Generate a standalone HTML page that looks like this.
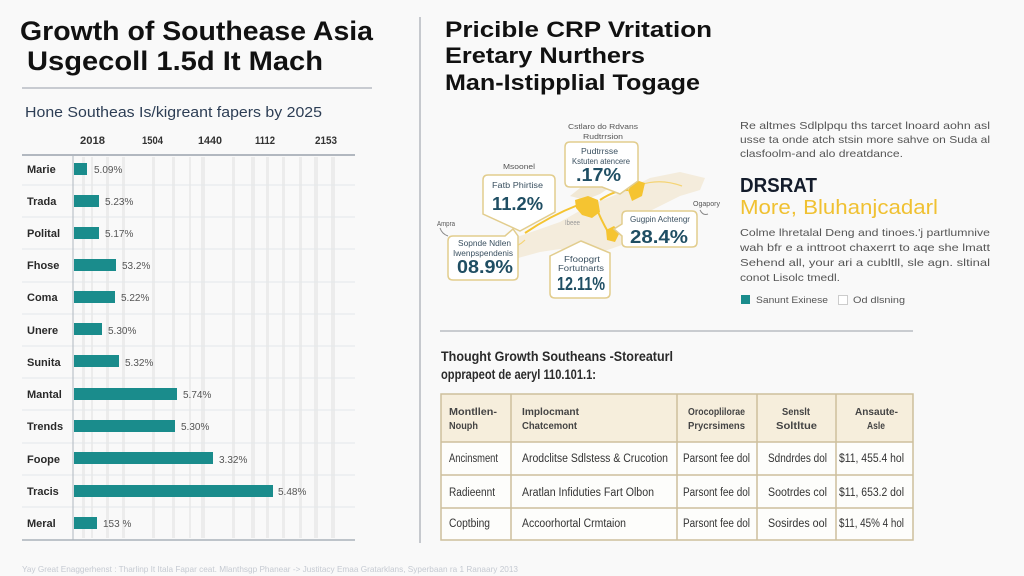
<!DOCTYPE html>
<html>
<head>
<meta charset="utf-8">
<style>
  html,body{margin:0;padding:0;background:#f9f9f9;}
  svg{display:block;}
  text{font-family:"Liberation Sans",Arial,sans-serif;}
</style>
</head>
<body>
<svg width="1024" height="576" viewBox="0 0 1024 576" xmlns="http://www.w3.org/2000/svg">
  <rect x="0" y="0" width="1024" height="576" fill="#f9f9f9"/>

  <!-- LEFT PANEL -->
  <text x="20" y="40" font-size="27" font-weight="bold" fill="#111" textLength="353" lengthAdjust="spacingAndGlyphs">Growth of Southease Asia</text>
  <text x="27" y="70" font-size="27" font-weight="bold" fill="#111" textLength="296" lengthAdjust="spacingAndGlyphs">Usgecoll 1.5d It Mach</text>
  <line x1="22" y1="88" x2="372" y2="88" stroke="#b8bcc4" stroke-width="1.5"/>
  <text x="25" y="117" font-size="15" fill="#2d3e55" textLength="297" lengthAdjust="spacingAndGlyphs">Hone Southeas Is/kigreant fapers by 2025</text>

  <g font-size="11" font-weight="bold" fill="#333">
    <text x="80" y="144" textLength="25" lengthAdjust="spacingAndGlyphs">2018</text>
    <text x="142" y="144" textLength="21" lengthAdjust="spacingAndGlyphs">1504</text>
    <text x="198" y="144" textLength="24" lengthAdjust="spacingAndGlyphs">1440</text>
    <text x="255" y="144" textLength="20" lengthAdjust="spacingAndGlyphs">1112</text>
    <text x="315" y="144" textLength="22" lengthAdjust="spacingAndGlyphs">2153</text>
  </g>

  <!-- faint vertical stripes -->
  <g fill="#e2e2e2" opacity="0.55">
    <rect x="82" y="157" width="3" height="381"/>
    <rect x="91" y="157" width="2" height="381"/>
    <rect x="106" y="157" width="3" height="381"/>
    <rect x="122" y="157" width="3" height="381"/>
    <rect x="152" y="157" width="3" height="381"/>
    <rect x="172" y="157" width="3" height="381"/>
    <rect x="189" y="157" width="2" height="381"/>
    <rect x="201" y="157" width="4" height="381"/>
    <rect x="232" y="157" width="3" height="381"/>
    <rect x="251" y="157" width="4" height="381"/>
    <rect x="266" y="157" width="3" height="381"/>
    <rect x="282" y="157" width="3" height="381"/>
    <rect x="299" y="157" width="3" height="381"/>
    <rect x="314" y="157" width="4" height="381"/>
    <rect x="331" y="157" width="4" height="381"/>
  </g>

  <!-- row separators -->
  <g stroke="#e4e7ea" stroke-width="1">
    <line x1="22" y1="185" x2="355" y2="185"/>
    <line x1="22" y1="217" x2="355" y2="217"/>
    <line x1="22" y1="249" x2="355" y2="249"/>
    <line x1="22" y1="282" x2="355" y2="282"/>
    <line x1="22" y1="314" x2="355" y2="314"/>
    <line x1="22" y1="346" x2="355" y2="346"/>
    <line x1="22" y1="378" x2="355" y2="378"/>
    <line x1="22" y1="410" x2="355" y2="410"/>
    <line x1="22" y1="443" x2="355" y2="443"/>
    <line x1="22" y1="475" x2="355" y2="475"/>
    <line x1="22" y1="507" x2="355" y2="507"/>
  </g>
  <line x1="22" y1="155" x2="355" y2="155" stroke="#9aa3ad" stroke-width="1.5"/>
  <line x1="73" y1="155" x2="73" y2="540" stroke="#b0b8c0" stroke-width="1"/>
  <line x1="22" y1="540" x2="355" y2="540" stroke="#aab2ba" stroke-width="1.5"/>

  <!-- bars -->
  <g fill="#1a8c8c">
    <rect x="74" y="163" width="13" height="12"/>
    <rect x="74" y="195" width="25" height="12"/>
    <rect x="74" y="227" width="25" height="12"/>
    <rect x="74" y="259" width="42" height="12"/>
    <rect x="74" y="291" width="41" height="12"/>
    <rect x="74" y="323" width="28" height="12"/>
    <rect x="74" y="355" width="45" height="12"/>
    <rect x="74" y="388" width="103" height="12"/>
    <rect x="74" y="420" width="101" height="12"/>
    <rect x="74" y="452" width="139" height="12"/>
    <rect x="74" y="485" width="199" height="12"/>
    <rect x="74" y="517" width="23" height="12"/>
  </g>

  <!-- row labels -->
  <g font-size="11" font-weight="bold" fill="#2a2a2a">
    <text x="27" y="173">Marie</text>
    <text x="27" y="205">Trada</text>
    <text x="27" y="237">Polital</text>
    <text x="27" y="269">Fhose</text>
    <text x="27" y="301">Coma</text>
    <text x="27" y="334">Unere</text>
    <text x="27" y="366">Sunita</text>
    <text x="27" y="398">Mantal</text>
    <text x="27" y="430">Trends</text>
    <text x="27" y="463">Foope</text>
    <text x="27" y="495">Tracis</text>
    <text x="27" y="527">Meral</text>
  </g>

  <!-- value labels -->
  <g font-size="10" fill="#555">
    <text x="94" y="173">5.09%</text>
    <text x="105" y="205">5.23%</text>
    <text x="105" y="237">5.17%</text>
    <text x="122" y="269">53.2%</text>
    <text x="121" y="301">5.22%</text>
    <text x="108" y="334">5.30%</text>
    <text x="125" y="366">5.32%</text>
    <text x="183" y="398">5.74%</text>
    <text x="181" y="430">5.30%</text>
    <text x="219" y="463">3.32%</text>
    <text x="278" y="495">5.48%</text>
    <text x="103" y="527">153 %</text>
  </g>

  <!-- footer -->
  <text x="22" y="572" font-size="8.5" fill="#c5cad2" textLength="496" lengthAdjust="spacingAndGlyphs">Yay Great Enaggerhenst : Tharlinp It Itala Fapar ceat. Mlanthsgp Phanear -&gt; Justitacy Emaa Gratarklans, Syperbaan ra 1 Ranaary 2013</text>

  <!-- divider -->
  <line x1="420" y1="17" x2="420" y2="543" stroke="#b5b9bf" stroke-width="1.5"/>

  <!-- RIGHT PANEL -->
  <g font-size="22" font-weight="bold" fill="#111">
    <text x="445" y="37" textLength="267" lengthAdjust="spacingAndGlyphs">Pricible CRP Vritation</text>
    <text x="445" y="63" textLength="200" lengthAdjust="spacingAndGlyphs">Eretary Nurthers</text>
    <text x="445" y="90" textLength="255" lengthAdjust="spacingAndGlyphs">Man-Istipplial Togage</text>
  </g>

  <!-- map -->
  <polygon points="455,255 480,245 520,236 560,222 590,205 620,193 650,178 680,172 705,178 700,190 680,196 660,206 640,216 622,245 590,256 560,249 540,252 500,263 470,268" fill="#f2e9d5" opacity="0.8"/>
  <polygon points="570,196 585,184 600,180 612,186 600,194 585,200" fill="#efe4cc" opacity="0.8"/>
  <g fill="#f5c431">
    <polygon points="575,200 588,196 598,200 600,212 592,218 582,215 576,208"/>
    <polygon points="628,190 636,180 645,183 642,196 632,201"/>
    <polygon points="606,230 614,226 620,232 615,242 607,240"/>
  </g>
  <g fill="none" stroke="#f5c431" stroke-width="2">
    <path d="M525,233 Q550,216 578,205"/>
    <path d="M598,212 Q605,228 612,238"/>
    <path d="M600,200 Q615,190 628,190"/>
    <path d="M640,185 Q660,178 682,186" stroke-width="1.2" opacity="0.6"/>
    <path d="M505,245 Q515,250 525,240" stroke-width="1.2" opacity="0.6"/>
  </g>
  <text x="565" y="225" font-size="7" fill="#999" textLength="15" lengthAdjust="spacingAndGlyphs">Ibeee</text>

  <!-- callouts -->
  <g fill="#ffffff" stroke="#e2cd8e" stroke-width="1.5">
    <path d="M488,175 H550 Q555,175 555,180 V212 L520,231 L483,214 V180 Q483,175 488,175 Z"/>
    <path d="M570,142 H633 Q638,142 638,147 V181 L620,194 L602,187 H570 Q565,187 565,182 V147 Q565,142 570,142 Z"/>
    <path d="M627,211 H692 Q697,211 697,216 V242 Q697,247 692,247 H627 Q622,247 622,242 V236 L614,229 L622,224 V216 Q622,211 627,211 Z"/>
    <path d="M453,236 H505 L513,229 L518,236 V275 Q518,280 513,280 H453 Q448,280 448,275 V241 Q448,236 453,236 Z"/>
    <path d="M550,256 L581,241 L610,253 V293 Q610,298 605,298 H555 Q550,298 550,293 Z"/>
  </g>
  <g font-size="7.5" fill="#555">
    <text x="503" y="169" textLength="32" lengthAdjust="spacingAndGlyphs">Msoonel</text>
    <text x="568" y="129" textLength="70" lengthAdjust="spacingAndGlyphs">Cstlaro do Rdvans</text>
    <text x="583" y="139" textLength="40" lengthAdjust="spacingAndGlyphs">Rudtrrsion</text>
    <text x="693" y="206" textLength="27" lengthAdjust="spacingAndGlyphs">Ogapory</text>
    <text x="437" y="226" textLength="18" lengthAdjust="spacingAndGlyphs">Ampra</text>
  </g>
  <path d="M700,210 q3,6 8,4" fill="none" stroke="#888" stroke-width="1"/>
  <path d="M440,228 q2,6 8,8" fill="none" stroke="#888" stroke-width="1"/>
  <g font-size="8" fill="#3a5060">
    <text x="492" y="188" textLength="51" lengthAdjust="spacingAndGlyphs">Fatb Phirtise</text>
    <text x="581" y="154" textLength="37" lengthAdjust="spacingAndGlyphs">Pudtrrsse</text>
    <text x="572" y="164" textLength="58" lengthAdjust="spacingAndGlyphs">Kstuten atencere</text>
    <text x="630" y="222" textLength="60" lengthAdjust="spacingAndGlyphs">Gugpin Achtengr</text>
    <text x="458" y="246" textLength="53" lengthAdjust="spacingAndGlyphs">Sopnde Ndlen</text>
    <text x="453" y="256" textLength="60" lengthAdjust="spacingAndGlyphs">Iwenpspendenis</text>
    <text x="564" y="262" textLength="36" lengthAdjust="spacingAndGlyphs">Ffoopgrt</text>
    <text x="558" y="271" textLength="46" lengthAdjust="spacingAndGlyphs">Fortutnarts</text>
  </g>
  <g font-size="18" font-weight="bold" fill="#1f4e63">
    <text x="492" y="210" textLength="51" lengthAdjust="spacingAndGlyphs">11.2%</text>
    <text x="576" y="181" textLength="45" lengthAdjust="spacingAndGlyphs">.17%</text>
    <text x="630" y="243" textLength="58" lengthAdjust="spacingAndGlyphs">28.4%</text>
    <text x="457" y="273" textLength="56" lengthAdjust="spacingAndGlyphs">08.9%</text>
    <text x="557" y="290" textLength="48" lengthAdjust="spacingAndGlyphs">12.11%</text>
  </g>

  <!-- right text block -->
  <g font-size="10.5" fill="#555">
    <text x="740" y="129" textLength="250" lengthAdjust="spacingAndGlyphs">Re altmes Sdlplpqu ths tarcet lnoard aohn asl</text>
    <text x="740" y="143" textLength="250" lengthAdjust="spacingAndGlyphs">usse ta onde atch stsin more sahve on Suda al</text>
    <text x="740" y="157" textLength="163" lengthAdjust="spacingAndGlyphs">clasfoolm-and alo dreatdance.</text>
  </g>
  <text x="740" y="192" font-size="20" font-weight="bold" fill="#141c2b" textLength="77" lengthAdjust="spacingAndGlyphs">DRSRAT</text>
  <text x="740" y="214" font-size="20" fill="#f0c132" textLength="198" lengthAdjust="spacingAndGlyphs">More, Bluhanjcadarl</text>
  <g font-size="10.5" fill="#555">
    <text x="740" y="236" textLength="250" lengthAdjust="spacingAndGlyphs">Colme lhretalal Deng and tinoes.'j partlumnive</text>
    <text x="740" y="251" textLength="250" lengthAdjust="spacingAndGlyphs">wah bfr e a inttroot chaxerrt to aqe she lmatt</text>
    <text x="740" y="266" textLength="250" lengthAdjust="spacingAndGlyphs">Sehend all, your ari a cubltll, sle agn. sltinal</text>
    <text x="740" y="281" textLength="100" lengthAdjust="spacingAndGlyphs">conot Lisolc tmedl.</text>
  </g>
  <rect x="741" y="295" width="9" height="9" fill="#1a8c8c"/>
  <text x="756" y="303" font-size="9" fill="#555" textLength="72" lengthAdjust="spacingAndGlyphs">Sanunt Exinese</text>
  <rect x="838.5" y="295.5" width="9" height="9" fill="#fff" stroke="#ccc" stroke-width="1"/>
  <text x="853" y="303" font-size="9" fill="#555" textLength="52" lengthAdjust="spacingAndGlyphs">Od dlsning</text>

  <line x1="440" y1="331" x2="913" y2="331" stroke="#b9bdc3" stroke-width="1.5"/>

  <!-- table section -->
  <g font-size="14" font-weight="bold" fill="#2a2a2a">
    <text x="441" y="361" textLength="232" lengthAdjust="spacingAndGlyphs">Thought Growth Southeans -Storeaturl</text>
    <text x="441" y="379" textLength="155" lengthAdjust="spacingAndGlyphs">opprapeot de aeryl 110.101.1:</text>
  </g>

  <rect x="441" y="394" width="472" height="48" fill="#f6eedc"/>
  <rect x="441" y="442" width="472" height="98" fill="#fdfdfb"/>
  <g stroke="#cdbf9c" stroke-width="1.5" fill="none">
    <rect x="441" y="394" width="472" height="146"/>
    <line x1="441" y1="442" x2="913" y2="442"/>
    <line x1="441" y1="475" x2="913" y2="475"/>
    <line x1="441" y1="508" x2="913" y2="508"/>
    <line x1="511" y1="394" x2="511" y2="540"/>
    <line x1="677" y1="394" x2="677" y2="540"/>
    <line x1="757" y1="394" x2="757" y2="540"/>
    <line x1="836" y1="394" x2="836" y2="540"/>
  </g>
  <g font-size="10.5" font-weight="bold" fill="#444">
    <text x="449" y="415" textLength="48" lengthAdjust="spacingAndGlyphs">Montllen-</text>
    <text x="449" y="429" textLength="29" lengthAdjust="spacingAndGlyphs">Nouph</text>
    <text x="522" y="415" textLength="57" lengthAdjust="spacingAndGlyphs">Implocmant</text>
    <text x="522" y="429" textLength="55" lengthAdjust="spacingAndGlyphs">Chatcemont</text>
    <text x="688" y="415" textLength="57" lengthAdjust="spacingAndGlyphs">Orocoplilorae</text>
    <text x="688" y="429" textLength="57" lengthAdjust="spacingAndGlyphs">Prycrsimens</text>
    <text x="782" y="415" textLength="28" lengthAdjust="spacingAndGlyphs">Senslt</text>
    <text x="776" y="429" textLength="41" lengthAdjust="spacingAndGlyphs">Soltltue</text>
    <text x="855" y="415" textLength="43" lengthAdjust="spacingAndGlyphs">Ansaute-</text>
    <text x="867" y="429" textLength="18" lengthAdjust="spacingAndGlyphs">Asle</text>
  </g>
  <g font-size="11.5" fill="#333">
    <text x="449" y="462" textLength="49" lengthAdjust="spacingAndGlyphs">Ancinsment</text>
    <text x="522" y="462" textLength="146" lengthAdjust="spacingAndGlyphs">Arodclitse Sdlstess &amp; Crucotion</text>
    <text x="683" y="462" textLength="67" lengthAdjust="spacingAndGlyphs">Parsont fee dol</text>
    <text x="768" y="462" textLength="59" lengthAdjust="spacingAndGlyphs">Sdndrdes dol</text>
    <text x="839" y="462" textLength="65" lengthAdjust="spacingAndGlyphs">$11, 455.4 hol</text>

    <text x="449" y="496" textLength="46" lengthAdjust="spacingAndGlyphs">Radieennt</text>
    <text x="522" y="496" textLength="132" lengthAdjust="spacingAndGlyphs">Aratlan Infiduties Fart Olbon</text>
    <text x="683" y="496" textLength="67" lengthAdjust="spacingAndGlyphs">Parsont fee dol</text>
    <text x="768" y="496" textLength="59" lengthAdjust="spacingAndGlyphs">Sootrdes col</text>
    <text x="839" y="496" textLength="65" lengthAdjust="spacingAndGlyphs">$11, 653.2 dol</text>

    <text x="449" y="527" textLength="41" lengthAdjust="spacingAndGlyphs">Coptbing</text>
    <text x="522" y="527" textLength="104" lengthAdjust="spacingAndGlyphs">Accoorhortal Crmtaion</text>
    <text x="683" y="527" textLength="67" lengthAdjust="spacingAndGlyphs">Parsont fee dol</text>
    <text x="768" y="527" textLength="59" lengthAdjust="spacingAndGlyphs">Sosirdes ool</text>
    <text x="839" y="527" textLength="65" lengthAdjust="spacingAndGlyphs">$11, 45% 4 hol</text>
  </g>
</svg>
</body>
</html>
